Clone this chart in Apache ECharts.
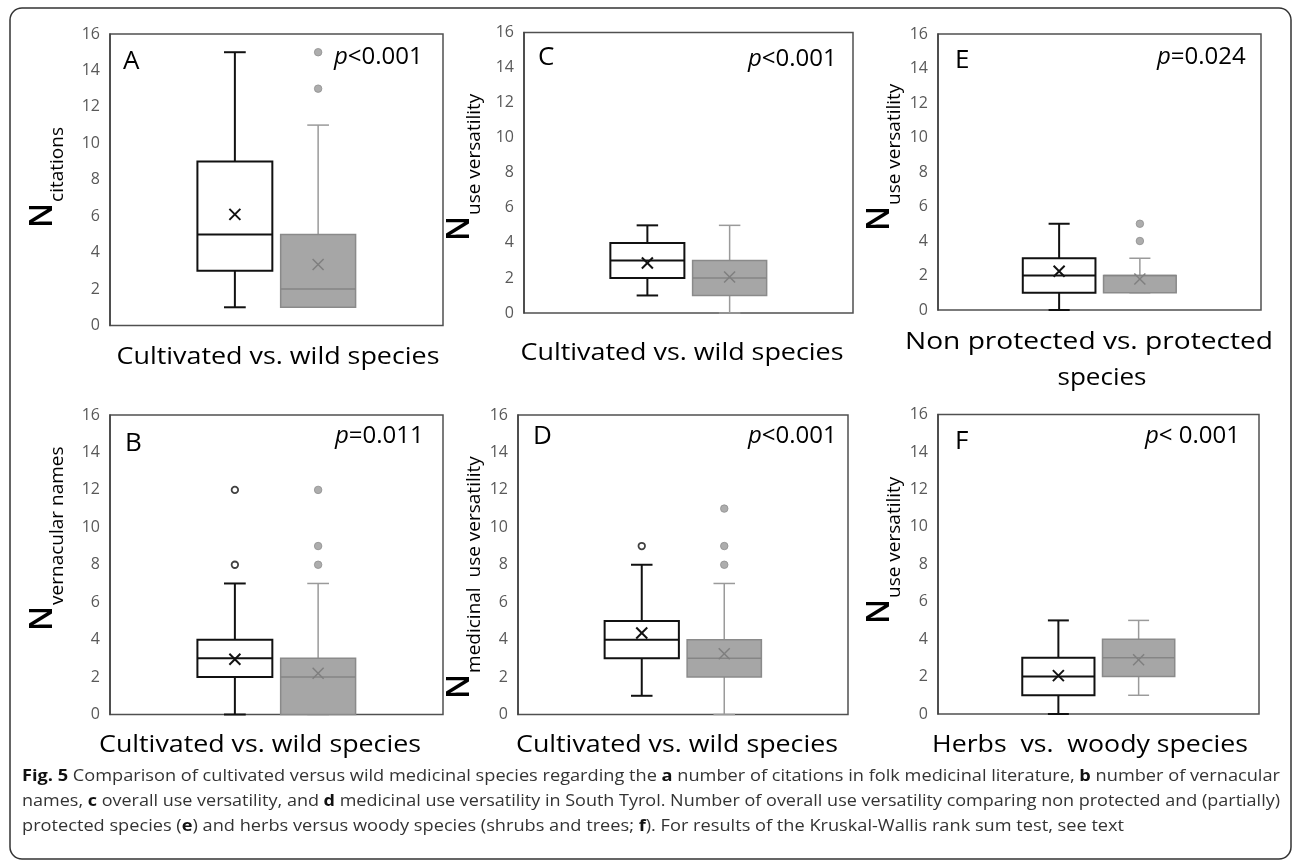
<!DOCTYPE html>
<html lang="en">
<head>
<meta charset="UTF-8">
<title>Fig. 5</title>
<script src="https://cdn.jsdelivr.net/npm/echarts@6.0.0/dist/echarts.min.js"></script>
<style>html,body{margin:0;padding:0;background:#fff}</style>
</head>
<body>
<div id="main" style="width:1295px;height:862px;"></div>
<script>
// x slots: empty, first group, second group, empty
var slots = ['', 'first', 'second', ''];
var yMin = 0, yMax = 16, yStep = 2;

// box stats are [min, Q1, median, Q3, max]
var citCult = [1, 3, 5, 9, 15], citCultMean = 6.1, citCultOut = [];
var citWild = [1, 1, 2, 5, 11], citWildMean = 3.35, citWildOut = [13, 15];
var vernCult = [0, 2, 3, 4, 7], vernCultMean = 2.95, vernCultOut = [8, 12];
var vernWild = [0, 0, 2, 3, 7], vernWildMean = 2.2, vernWildOut = [8, 9, 12];
var useCult = [1, 2, 3, 4, 5], useCultMean = 2.85, useCultOut = [];
var useWild = [0, 1, 2, 3, 5], useWildMean = 2.05, useWildOut = [];
var medCult = [1, 3, 4, 5, 8], medCultMean = 4.35, medCultOut = [9];
var medWild = [0, 2, 3, 4, 7], medWildMean = 3.25, medWildOut = [8, 9, 11];
var protNo = [0, 1, 2, 3, 5], protNoMean = 2.25, protNoOut = [];
var protYes = [1, 1, 2, 2, 3], protYesMean = 1.8, protYesOut = [4, 5];
var herbs = [0, 1, 2, 3, 5], herbsMean = 2.05, herbsOut = [];
var woody = [1, 2, 3, 4, 5], woodyMean = 2.9, woodyOut = [];

var panelData = [
    [citCult, citCultMean, citCultOut, citWild, citWildMean, citWildOut],
    [useCult, useCultMean, useCultOut, useWild, useWildMean, useWildOut],
    [protNo, protNoMean, protNoOut, protYes, protYesMean, protYesOut],
    [vernCult, vernCultMean, vernCultOut, vernWild, vernWildMean, vernWildOut],
    [medCult, medCultMean, medCultOut, medWild, medWildMean, medWildOut],
    [herbs, herbsMean, herbsOut, woody, woodyMean, woodyOut]
];

// placement of each panel (A, C, E on top, B, D, F below)
var layout = [
    {grid: [110, 34, 333, 291.5], letter: ['A', 123, 62], p: ['{i|p}<0.001', 334, 57.5],
     ylab: [43, 228, 'citations'], xlab: [['Cultivated vs. wild species', 278, 357, 323]]},
    {grid: [524, 32.5, 329, 280.5], letter: ['C', 538, 57.5], p: ['{i|p}<0.001', 748, 59],
     ylab: [460, 241, 'use versatility'], xlab: [['Cultivated vs. wild species', 682, 353, 323]]},
    {grid: [938, 34, 323, 276], letter: ['E', 955, 61], p: ['{i|p}=0.024', 1157, 57.5],
     ylab: [880, 231, 'use versatility'], xlab: [['Non protected vs. protected', 1089, 342, 368], ['species', 1102, 378, 89]]},
    {grid: [110, 415, 333, 299.5], letter: ['B', 125, 443.5], p: ['{i|p}=0.011', 335, 436.5],
     ylab: [43, 631, 'vernacular names'], xlab: [['Cultivated vs. wild species', 260, 745, 322]]},
    {grid: [518, 415, 330, 299.5], letter: ['D', 533, 437], p: ['{i|p}<0.001', 748, 436.5],
     ylab: [460, 699, 'medicinal  use versatility'], xlab: [['Cultivated vs. wild species', 677, 745, 322]]},
    {grid: [938, 414.5, 321, 299.5], letter: ['F', 955, 442], p: ['{i|p}< 0.001', 1145, 436.5],
     ylab: [880, 624, 'use versatility'], xlab: [['Herbs  vs.  woody species', 1090, 745, 316]]}
];

var FONT = 'Open Sans';
var cultStyle = {stroke: '#111', fill: '#fff', whisker: '#111', median: '#111', mean: '#111', lw: 2, meanLw: 2};
var wildStyle = {stroke: '#8a8a8a', fill: '#a6a6a6', whisker: '#9a9a9a', median: '#858585', mean: '#7f7f7f', lw: 1.5, meanLw: 1.5};

var ctx = document.createElement('canvas').getContext('2d');
function textWidth(str, font) {
    ctx.font = font;
    return ctx.measureText(str).width;
}

function boxRenderer(st) {
    return function (params, api) {
        var xi = api.value(0);
        function py(v) { return api.coord([xi, v])[1]; }
        var x = api.coord([xi, 0])[0];
        var y0 = py(api.value(1)), q1 = py(api.value(2)), med = py(api.value(3)),
            q3 = py(api.value(4)), y1 = py(api.value(5)), mean = py(api.value(6));
        var bw = api.size([1, 0])[0] * 0.9;
        var cw = bw * 0.29, m = 5.5;
        function line(xa, ya, xb, yb, color, lw) {
            return {type: 'line', shape: {x1: xa, y1: ya, x2: xb, y2: yb}, style: {stroke: color, lineWidth: lw}};
        }
        return {type: 'group', children: [
            line(x, y1, x, q3, st.whisker, st.lw),
            line(x, q1, x, y0, st.whisker, st.lw),
            line(x - cw / 2, y1, x + cw / 2, y1, st.whisker, st.lw),
            line(x - cw / 2, y0, x + cw / 2, y0, st.whisker, st.lw),
            {type: 'rect', shape: {x: x - bw / 2, y: q3, width: bw, height: q1 - q3},
             style: {fill: st.fill, stroke: st.stroke, lineWidth: st.lw}},
            line(x - bw / 2, med, x + bw / 2, med, st.median, st.lw),
            line(x - m, mean - m, x + m, mean + m, st.mean, st.meanLw),
            line(x - m, mean + m, x + m, mean - m, st.mean, st.meanLw)
        ]};
    };
}

var grids = [], xAxes = [], yAxes = [], series = [], graphics = [];

layout.forEach(function (L, i) {
    grids.push({show: true, left: L.grid[0], top: L.grid[1], width: L.grid[2], height: L.grid[3],
        borderColor: '#505050', borderWidth: 1.5, backgroundColor: 'transparent'});
    xAxes.push({type: 'category', gridIndex: i, data: slots,
        axisLine: {show: false}, axisTick: {show: false}, axisLabel: {show: false}, splitLine: {show: false}});
    yAxes.push({type: 'value', gridIndex: i, min: yMin, max: yMax, interval: yStep,
        axisLine: {show: true, lineStyle: {color: '#404040', width: 1.5}},
        axisTick: {show: false}, splitLine: {show: false},
        axisLabel: {color: '#595959', fontSize: 16, fontFamily: FONT, margin: 10}});

    var d = panelData[i];
    series.push({type: 'custom', xAxisIndex: i, yAxisIndex: i, renderItem: boxRenderer(cultStyle),
        encode: {x: 0, y: [1, 2, 3, 4, 5, 6]}, data: [[1].concat(d[0], [d[1]])], z: 2});
    series.push({type: 'custom', xAxisIndex: i, yAxisIndex: i, renderItem: boxRenderer(wildStyle),
        encode: {x: 0, y: [1, 2, 3, 4, 5, 6]}, data: [[2].concat(d[3], [d[4]])], z: 2});
    series.push({type: 'scatter', xAxisIndex: i, yAxisIndex: i, symbol: 'circle', symbolSize: 6.5, z: 3,
        itemStyle: {color: '#fff', borderColor: '#111', borderWidth: 1.8},
        data: d[2].map(function (v) { return [1, v]; })});
    series.push({type: 'scatter', xAxisIndex: i, yAxisIndex: i, symbol: 'circle', symbolSize: 7.5, z: 3,
        itemStyle: {color: '#999', borderColor: '#8f8f8f', borderWidth: 1},
        data: d[5].map(function (v) { return [2, v]; })});

    // panel letter and p value
    graphics.push({type: 'text', x: L.letter[1], y: L.letter[2],
        style: {text: L.letter[0], fontSize: 26, fontFamily: FONT, fill: '#000', align: 'left', verticalAlign: 'middle'}});
    graphics.push({type: 'text', x: L.p[1], y: L.p[2],
        style: {text: L.p[0], fontSize: 24, fontFamily: FONT, fill: '#000', align: 'left', verticalAlign: 'middle',
            rich: {i: {fontStyle: 'italic', fontSize: 24, fontFamily: FONT, fill: '#000'}}}});

    // rotated y axis title: N with subscript
    var wN = textWidth('N', '600 32px "' + FONT + '"');
    graphics.push({type: 'group', x: L.ylab[0], y: L.ylab[1], rotation: Math.PI / 2, children: [
        {type: 'text', x: 0, y: 0, style: {text: 'N', fontSize: 32, fontWeight: 600, fontFamily: FONT, fill: '#000', align: 'left', verticalAlign: 'middle'}},
        {type: 'text', x: wN + 1, y: 15, style: {text: L.ylab[2], fontSize: 19, fontFamily: FONT, fill: '#000', align: 'left', verticalAlign: 'middle'}}
    ]});

    // x titles under each plot, stretched to the measured width
    L.xlab.forEach(function (t) {
        var w = textWidth(t[0], '23px "' + FONT + '"');
        graphics.push({type: 'text', x: t[1], y: t[2], scaleX: t[3] / w,
            style: {text: t[0], fontSize: 23, fontFamily: FONT, fill: '#000', align: 'center', verticalAlign: 'middle'}});
    });
});

// caption: first two lines are justified to the full width
var capLines = [
    [['b', 'Fig. 5'], ['n', ' Comparison of cultivated versus wild medicinal species regarding the '], ['b', 'a'],
     ['n', ' number of citations in folk medicinal literature, '], ['b', 'b'], ['n', ' number of vernacular']],
    [['n', 'names, '], ['b', 'c'], ['n', ' overall use versatility, and '], ['b', 'd'],
     ['n', ' medicinal use versatility in South Tyrol. Number of overall use versatility comparing non protected and (partially)']],
    [['n', 'protected species ('], ['b', 'e'], ['n', ') and herbs versus woody species (shrubs and trees; '], ['b', 'f'],
     ['n', '). For results of the Kruskal-Wallis rank sum test, see text']]
];
var capY = [776, 801, 826];
var capSize = 16;
var capLeft = 22, capRight = 1280;
function capWidth(segs) {
    return segs.reduce(function (s, g) {
        return s + textWidth(g[1], (g[0] === 'b' ? 'bold ' : '') + capSize + 'px "' + FONT + '"');
    }, 0);
}
var baseScale = (capRight - capLeft) / capWidth(capLines[0]);
capLines.forEach(function (segs, k) {
    var sc = k < 2 ? (capRight - capLeft) / capWidth(segs) : baseScale;
    graphics.push({type: 'text', x: capLeft, y: capY[k], scaleX: sc,
        style: {
            text: segs.map(function (g) { return g[0] === 'b' ? '{b|' + g[1] + '}' : g[1]; }).join(''),
            fontSize: capSize, fontFamily: FONT, fill: '#333', align: 'left', verticalAlign: 'middle',
            rich: {b: {fontWeight: 'bold', fontSize: capSize, fontFamily: FONT, fill: '#111'}}
        }});
});

// rounded outer frame
graphics.push({type: 'rect', shape: {x: 10, y: 8, width: 1281, height: 851, r: 12},
    style: {fill: 'none', stroke: '#333', lineWidth: 1.5}, z: -1});

var myChart = echarts.init(document.getElementById('main'));
myChart.setOption({
    animation: false,
    backgroundColor: '#fff',
    grid: grids,
    xAxis: xAxes,
    yAxis: yAxes,
    series: series,
    graphic: graphics
});
</script>
</body>
</html>
